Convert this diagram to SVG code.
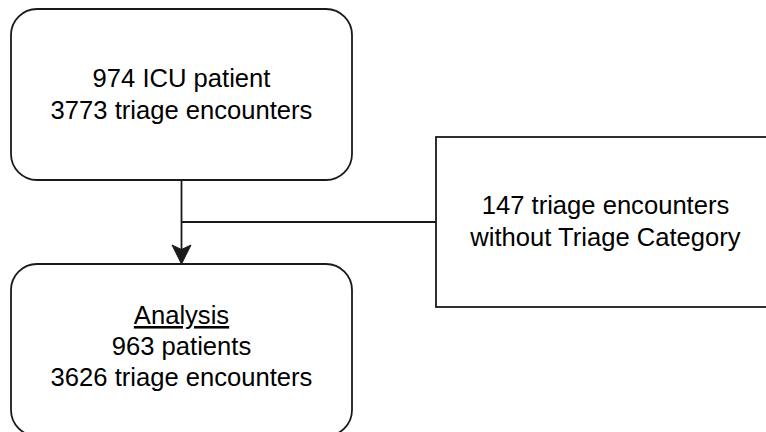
<svg xmlns="http://www.w3.org/2000/svg" width="766" height="432" viewBox="0 0 766 432">
  <style>
    .box { fill: #ffffff; stroke: #1a1a1a; stroke-width: 1.8; }
    .edge { fill: none; stroke: #1a1a1a; stroke-width: 1.8; }
    .label { font-family: "Liberation Sans", Arial, Helvetica, sans-serif; font-size: 25.6px; fill: #000000; text-anchor: middle; }
  </style>
  <rect width="766" height="432" fill="#ffffff"/>

  <g id="cohort">
    <rect class="box" x="11" y="9" width="341" height="171" rx="26" ry="26"/>
    <text class="label" x="181.5" y="87">974 ICU patient</text>
    <text class="label" x="181.5" y="119">3773 triage encounters</text>
  </g>

  <g id="excluded">
    <rect class="box" x="436" y="137" width="345" height="170"/>
    <text class="label" x="605.5" y="214">147 triage encounters</text>
    <text class="label" x="605.5" y="246">without Triage Category</text>
  </g>

  <g id="analysis">
    <rect class="box" x="11" y="264" width="341" height="172" rx="26" ry="26"/>
    <text class="label" x="181.5" y="324" text-decoration="underline">Analysis</text>
    <text class="label" x="181.5" y="355">963 patients</text>
    <text class="label" x="181.5" y="386">3626 triage encounters</text>
  </g>

  <g id="connectors">
    <path class="edge" d="M181.5,180 V250"/>
    <path class="edge" d="M181.5,222 H436"/>
    <path d="M181.5,264 L172,245 L181.5,249.5 L191,245 Z" fill="#1a1a1a" stroke="#1a1a1a" stroke-width="1" stroke-linejoin="miter"/>
  </g>
</svg>
